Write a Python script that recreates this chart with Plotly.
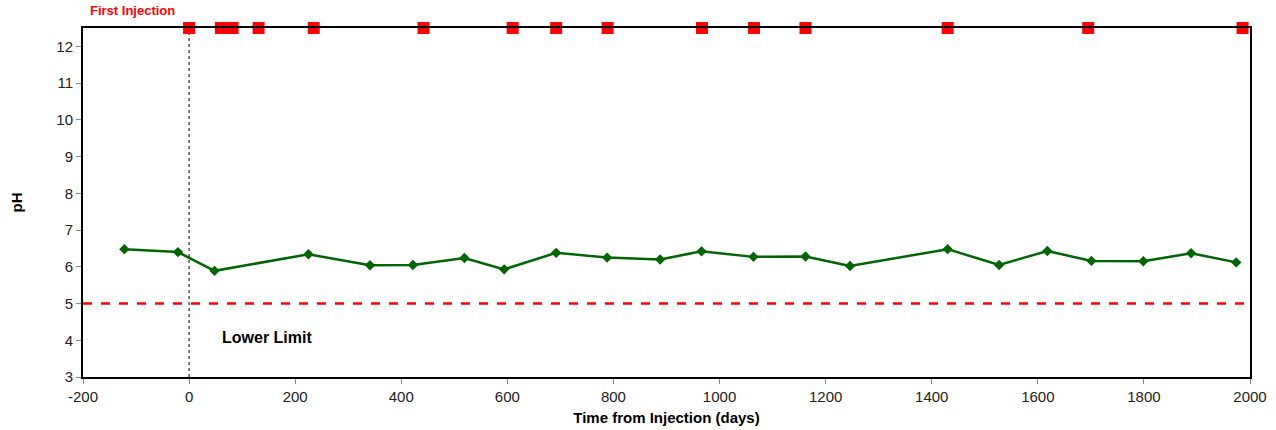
import plotly.graph_objects as go

# pH samples
days = [-122, -21, 48, 225, 341, 422, 519, 594, 692, 788, 888, 966, 1064,
        1162, 1246, 1430, 1527, 1618, 1701, 1799, 1889, 1974]
ph = [6.48, 6.40, 5.89, 6.34, 6.04, 6.05, 6.24, 5.93, 6.38, 6.25, 6.20, 6.42,
      6.27, 6.28, 6.02, 6.48, 6.05, 6.43, 6.16, 6.15, 6.37, 6.12]

# injection events (drawn on top border)
inj_days = [0, 60, 82, 131, 235, 442, 610, 692, 789, 967, 1065, 1162, 1430, 1695, 1986]
inj_y = [12.5] * len(inj_days)

lower_limit = 5
x_ticks = list(range(-200, 2001, 200))
x_labels = [str(v) for v in x_ticks]  # plain hyphen for -200

font = "Liberation Sans, Arial, sans-serif"

fig = go.Figure()

# vertical dotted line at injection start
fig.add_trace(go.Scatter(x=[0, 0], y=[3, 12.5], mode="lines",
                         line=dict(color="black", width=1, dash="dot"),
                         hoverinfo="skip", showlegend=False))

# lower limit
fig.add_trace(go.Scatter(x=[-200, 2000], y=[lower_limit, lower_limit], mode="lines",
                         line=dict(color="#ff0000", width=2.5, dash="dash"),
                         showlegend=False))

fig.add_trace(go.Scatter(x=days, y=ph, mode="lines+markers",
                         line=dict(color="#006400", width=2.5),
                         marker=dict(symbol="diamond", size=8, color="#006400"),
                         showlegend=False))

fig.add_trace(go.Scatter(x=inj_days, y=inj_y, mode="markers",
                         marker=dict(symbol="square", size=12, color="#ff0000"),
                         cliponaxis=False, showlegend=False))

fig.add_annotation(x=146, y=4.08, text="<b>Lower Limit</b>", showarrow=False,
                   font=dict(family=font, size=16, color="black"))
fig.add_annotation(x=0.0043, y=1.05, xref="paper", yref="paper",
                   text="<b>First Injection</b>", showarrow=False,
                   xanchor="left", yanchor="middle",
                   font=dict(family=font, size=13, color="#ff0000"))

fig.update_layout(
    width=1276, height=430,
    margin=dict(l=83, r=26, t=28, b=53, autoexpand=False),
    plot_bgcolor="white", paper_bgcolor="white",
    font=dict(family=font, size=15, color="#222"),
)

fig.update_xaxes(range=[-200, 2000], tickvals=x_ticks, ticktext=x_labels,
                 showgrid=False, zeroline=False,
                 showline=True, linecolor="black", linewidth=2, mirror=True,
                 ticks="outside", ticklen=5, tickcolor="#888",
                 title=dict(text="<b>Time from Injection (days)</b>", standoff=8,
                            font=dict(size=15, color="black")))
fig.update_yaxes(range=[3, 12.5], tickvals=list(range(3, 13)), showgrid=False,
                 zeroline=False, showline=True, linecolor="black", linewidth=2,
                 mirror=True, ticks="outside", ticklen=5, tickcolor="#888",
                 title=dict(text="<b>pH</b>", standoff=30,
                            font=dict(size=15, color="black")))

# drop the default page margin so the figure sits at the window's corner
fig.write_html("out.html", config={"displayModeBar": False},
               post_script="document.body.style.margin='0';")
